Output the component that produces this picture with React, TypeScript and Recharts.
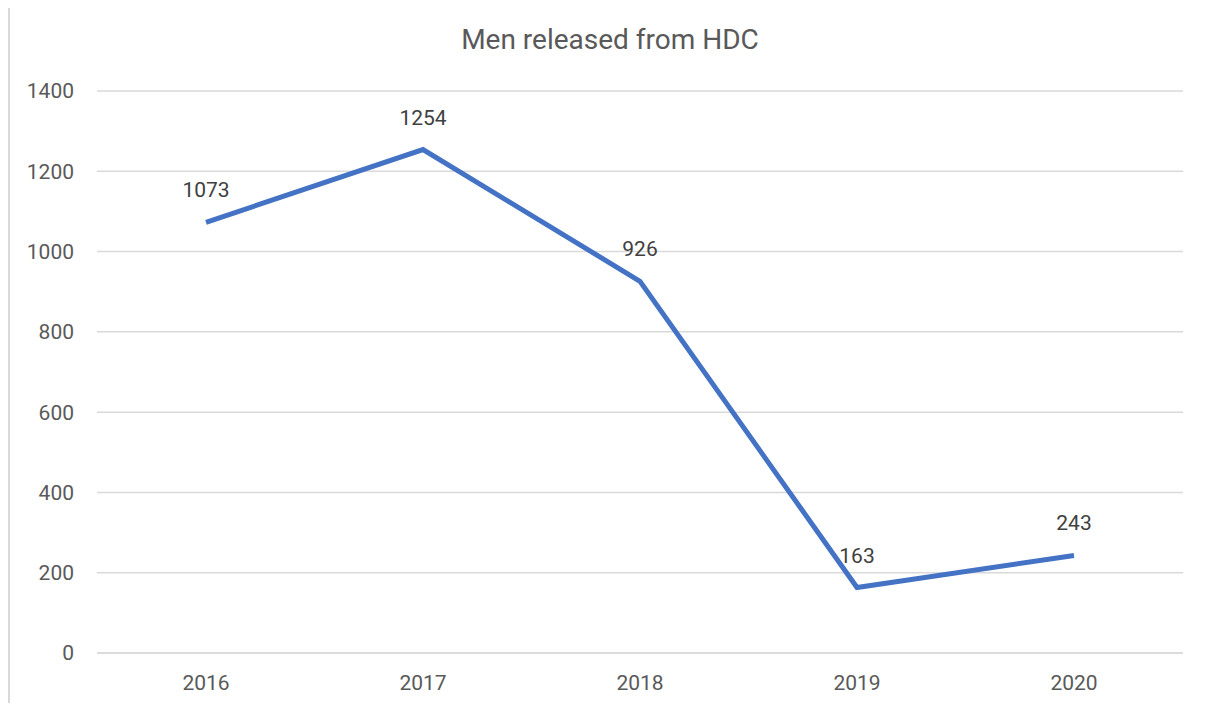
import React from "react";
import { LineChart, Line, XAxis, YAxis, CartesianGrid, LabelList } from "recharts";

const years = ["2016", "2017", "2018", "2019", "2020"];
const released = [1073, 1254, 926, 163, 243];
const yTicks = [0, 200, 400, 600, 800, 1000, 1200, 1400];
const title = "Men released from HDC";

const data = years.map((y, i) => ({ year: y, value: released[i] }));

const FONT = "Roboto, 'Noto Sans', sans-serif";

export default function App() {
  return (
    <div style={{ position: "relative", width: 1190, height: 695, background: "#fff" }}>
      <div
        style={{
          position: "absolute",
          left: 0,
          top: -1,
          width: 2,
          height: 703,
          background: "#d9d9d9",
        }}
      />
      <div
        style={{
          position: "absolute",
          left: 0,
          width: 1204,
          top: 15,
          textAlign: "center",
          fontFamily: FONT,
          fontSize: 28,
          color: "#595959",
        }}
      >
        {title}
      </div>
      <LineChart
        width={1190}
        height={695}
        data={data}
        margin={{ top: 83, right: 15, left: 29, bottom: 0 }}
        style={{ position: "absolute", left: 0, top: 0 }}
      >
        <CartesianGrid vertical={false} stroke="#d9d9d9" strokeWidth={1.5} />
        <XAxis
          dataKey="year"
          height={50}
          padding={{ left: 109, right: 109 }}
          axisLine={{ stroke: "#d9d9d9", strokeWidth: 1.5 }}
          tickLine={false}
          tickSize={0}
          tickMargin={22}
          tick={{ fill: "#595959", fontSize: 21, fontFamily: FONT }}
        />
        <YAxis
          width={60}
          domain={[0, 1400]}
          ticks={yTicks}
          axisLine={false}
          tickLine={false}
          tickSize={0}
          tickMargin={23}
          tick={{ fill: "#595959", fontSize: 21, fontFamily: FONT }}
        />
        <Line
          type="linear"
          dataKey="value"
          stroke="#4472C4"
          strokeWidth={5}
          dot={false}
          activeDot={false}
          isAnimationActive={false}
        >
          <LabelList
            dataKey="value"
            position="top"
            offset={25}
            style={{ fill: "#404040", fontSize: 21, fontFamily: FONT }}
          />
        </Line>
      </LineChart>
    </div>
  );
}
